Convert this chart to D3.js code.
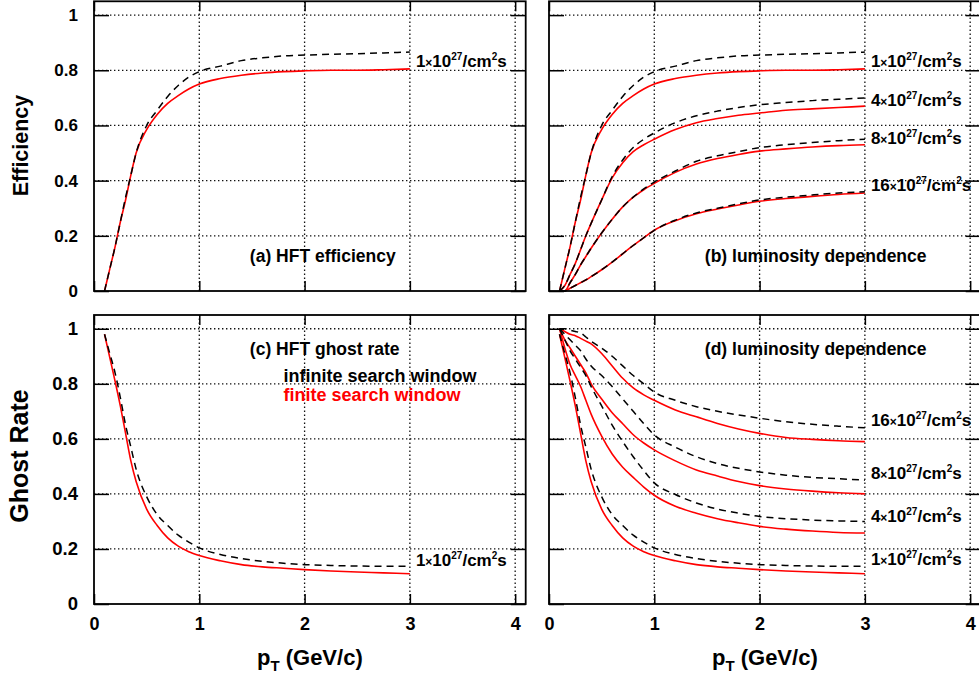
<!DOCTYPE html>
<html><head><meta charset="utf-8">
<script src="https://cdn.jsdelivr.net/npm/d3@7"></script>
<style>
body{margin:0;background:#fff}
svg{display:block;font-family:"Liberation Sans",Arial,Helvetica,sans-serif;font-weight:bold}
</style>
</head><body>
<svg id="chart" width="979" height="675"></svg>
<script>
// ---------------- DATA ----------------
const pT = [0.1,0.15,0.2,0.25,0.3,0.35,0.4,0.5,0.6,0.7,0.8,0.9,1.0,1.2,1.4,1.6,1.8,2.0,2.25,2.5,2.75,3.0];
const luminosities = ["1","4","8","16"];
const xTickValues = [0,1,2,3,4];
const yTickValues = [0,0.2,0.4,0.6,0.8,1];

// efficiency, finite (red) / infinite (black dashed) search window
const effFinite1  = [0.0,0.08,0.16,0.25,0.33,0.42,0.50,0.585,0.64,0.68,0.708,0.732,0.75,0.77,0.782,0.79,0.795,0.798,0.80,0.80,0.802,0.805];
const effInf1     = [0.0,0.08,0.16,0.25,0.34,0.42,0.50,0.60,0.655,0.705,0.745,0.775,0.795,0.815,0.835,0.845,0.852,0.855,0.858,0.86,0.863,0.866];
const effFinite4  = [0.0,0.02,0.06,0.10,0.15,0.20,0.245,0.33,0.41,0.465,0.505,0.53,0.55,0.585,0.61,0.625,0.637,0.645,0.655,0.66,0.665,0.67];
const effInf4     = [0.0,0.02,0.06,0.10,0.15,0.20,0.245,0.33,0.415,0.475,0.52,0.55,0.573,0.61,0.635,0.652,0.665,0.675,0.683,0.69,0.695,0.70];
const effFinite8  = [0.0,0.0,0.03,0.06,0.095,0.125,0.155,0.21,0.26,0.305,0.34,0.367,0.39,0.43,0.46,0.48,0.495,0.507,0.515,0.522,0.527,0.53];
const effInf8     = [0.0,0.0,0.03,0.06,0.095,0.125,0.155,0.21,0.26,0.305,0.34,0.37,0.395,0.435,0.47,0.49,0.505,0.52,0.53,0.538,0.545,0.55];
const effFinite16 = [0.0,0.0,0.01,0.02,0.03,0.04,0.052,0.077,0.105,0.135,0.165,0.193,0.22,0.255,0.28,0.297,0.312,0.325,0.335,0.343,0.35,0.355];
const effInf16    = [0.0,0.0,0.01,0.02,0.03,0.04,0.052,0.077,0.105,0.135,0.165,0.193,0.22,0.257,0.283,0.30,0.316,0.33,0.34,0.348,0.355,0.36];

// ghost rate, finite (red) / infinite (black dashed) search window
const ghostFinite1  = [0.98,0.895,0.81,0.72,0.62,0.52,0.445,0.345,0.285,0.24,0.21,0.19,0.176,0.157,0.143,0.135,0.13,0.125,0.12,0.116,0.113,0.11];
const ghostInf1     = [0.98,0.91,0.84,0.75,0.65,0.57,0.49,0.39,0.325,0.285,0.25,0.225,0.204,0.18,0.165,0.155,0.148,0.143,0.14,0.138,0.137,0.137];
const ghostFinite4  = [1.0,0.93,0.87,0.83,0.79,0.74,0.69,0.61,0.545,0.497,0.46,0.425,0.395,0.355,0.33,0.31,0.295,0.282,0.272,0.265,0.26,0.258];
const ghostInf4     = [1.0,0.96,0.92,0.89,0.86,0.83,0.79,0.72,0.65,0.59,0.535,0.485,0.44,0.398,0.367,0.345,0.33,0.318,0.31,0.305,0.302,0.30];
const ghostFinite8  = [1.0,0.96,0.93,0.90,0.87,0.84,0.80,0.745,0.695,0.655,0.615,0.585,0.56,0.52,0.487,0.465,0.445,0.43,0.418,0.41,0.404,0.40];
const ghostInf8     = [1.0,0.98,0.96,0.94,0.92,0.89,0.865,0.83,0.79,0.745,0.70,0.655,0.614,0.57,0.535,0.51,0.493,0.48,0.468,0.46,0.455,0.45];
const ghostFinite16 = [1.0,0.99,0.98,0.975,0.965,0.955,0.945,0.91,0.865,0.82,0.785,0.76,0.74,0.705,0.68,0.656,0.636,0.62,0.605,0.598,0.593,0.59];
const ghostInf16    = [1.0,1.0,0.995,0.99,0.985,0.97,0.955,0.93,0.90,0.865,0.83,0.80,0.77,0.74,0.717,0.70,0.687,0.675,0.662,0.653,0.646,0.64];

// ---------------- DRAWING ----------------
const svg = d3.select("#chart");
const RED = "#ff0000";

function zip(vals){ return pT.map((p,i)=>[p, vals[i]]); }

function lumLabel(g, px, py, n){
  const t = g.append("text").attr("x",px).attr("y",py).attr("font-size",17).attr("fill","#000");
  t.append("tspan").text(n);
  t.append("tspan").attr("font-size",12).text("\u00d7");
  t.append("tspan").text("10");
  t.append("tspan").attr("font-size",10).attr("dy",-7).text("27");
  t.append("tspan").attr("dy",7).text("/cm");
  t.append("tspan").attr("font-size",10).attr("dy",-7).text("2");
  t.append("tspan").attr("dy",7).text("s");
}

function panel(cfg){
  const g = svg.append("g");
  const x = d3.scaleLinear().domain([0,4.1]).range([cfg.left, cfg.right]);
  const y = d3.scaleLinear().domain([0,1.05]).range([cfg.bottom, cfg.top]);

  // dotted grid
  const grid = g.append("g").attr("stroke","#111").attr("stroke-width",1.3).attr("stroke-dasharray","1.4,2.6");
  xTickValues.filter(v=>v>0).forEach(v=>{
    grid.append("line").attr("x1",x(v)).attr("x2",x(v)).attr("y1",cfg.bottom).attr("y2",cfg.top);
  });
  yTickValues.filter(v=>v>0).forEach(v=>{
    grid.append("line").attr("x1",cfg.left).attr("x2",cfg.right).attr("y1",y(v)).attr("y2",y(v));
  });

  // curves
  const line = d3.line().x(d=>x(d[0])).y(d=>y(d[1])).curve(d3.curveMonotoneX);
  cfg.series.forEach(s=>{
    g.append("path").datum(zip(s.finite)).attr("d",line)
      .attr("fill","none").attr("stroke",RED).attr("stroke-width",1.6);
  });
  cfg.series.forEach(s=>{
    g.append("path").datum(zip(s.inf)).attr("d",line)
      .attr("fill","none").attr("stroke","#000").attr("stroke-width",1.5).attr("stroke-dasharray","7,5");
  });

  // axes (inward ticks)
  const fmt = d=>String(d);
  const ax = [
    {a: d3.axisLeft(y).tickValues(yTickValues).tickSize(-15).tickPadding(16).tickFormat(cfg.yLabels?fmt:""), t:`translate(${cfg.left},0)`, fs: cfg.yFont},
    {a: d3.axisRight(y).tickValues(yTickValues).tickSize(-15).tickFormat(""), t:`translate(${cfg.right},0)`},
    {a: d3.axisTop(x).tickValues(xTickValues).tickSize(-10).tickFormat(""), t:`translate(0,${cfg.top})`},
    {a: d3.axisBottom(x).tickValues(xTickValues).tickSize(-10).tickPadding(13).tickFormat(cfg.xLabels?fmt:""), t:`translate(0,${cfg.bottom})`, fs: 18}
  ];
  ax.forEach(o=>{
    const ag = g.append("g").attr("transform",o.t).call(o.a);
    ag.select(".domain").remove();
    ag.selectAll("line").attr("stroke","#000").attr("stroke-width",1.5);
    ag.selectAll("text").attr("font-family",null).attr("font-size",o.fs||16).attr("fill","#000");
    ag.attr("font-family",null);
  });

  // frame
  g.append("rect").attr("x",cfg.left).attr("y",cfg.top)
    .attr("width",cfg.right-cfg.left).attr("height",cfg.bottom-cfg.top)
    .attr("fill","none").attr("stroke","#000").attr("stroke-width",1.8);

  // panel title
  g.append("text").attr("x",x(1.48)).attr("y",cfg.titleY).attr("font-size",17.5).attr("fill","#000").text(cfg.title);

  // luminosity labels
  cfg.labels.forEach(l=>{
    lumLabel(g, x(3)+6, y(l.at)+6, l.n);
  });

  // x axis title
  if(cfg.xLabels){
    const t = g.append("text").attr("x",(cfg.left+cfg.right)/2).attr("y",665)
      .attr("text-anchor","middle").attr("font-size",22).attr("fill","#000");
    t.append("tspan").text("p");
    t.append("tspan").attr("font-size",15).attr("dy",6).text("T");
    t.append("tspan").attr("dy",-6).text(" (GeV/c)");
  }
  return {g,x,y};
}

const effSeries1 = [{finite:effFinite1, inf:effInf1}];
const effSeriesAll = [
  {finite:effFinite1, inf:effInf1},{finite:effFinite4, inf:effInf4},
  {finite:effFinite8, inf:effInf8},{finite:effFinite16, inf:effInf16}];
const ghostSeries1 = [{finite:ghostFinite1, inf:ghostInf1}];
const ghostSeriesAll = [
  {finite:ghostFinite1, inf:ghostInf1},{finite:ghostFinite4, inf:ghostInf4},
  {finite:ghostFinite8, inf:ghostInf8},{finite:ghostFinite16, inf:ghostInf16}];

const L = {left:94, right:525.7}, R = {left:549, right:980.7};
const T = {top:1.3, bottom:291}, B = {top:315, bottom:604};

panel({...L, ...T, series:effSeries1, yLabels:true, yFont:17, xLabels:false,
  title:"(a) HFT efficiency", titleY:262, labels:[{n:luminosities[0], at:0.833}]});
panel({...R, ...T, series:effSeriesAll, yLabels:false, xLabels:false,
  title:"(b) luminosity dependence", titleY:262,
  labels:[{n:luminosities[0],at:0.833},{n:luminosities[1],at:0.694},{n:luminosities[2],at:0.556},{n:luminosities[3],at:0.385}]});
const pc = panel({...L, ...B, series:ghostSeries1, yLabels:true, yFont:18.5, xLabels:true,
  title:"(c) HFT ghost rate", titleY:355, labels:[{n:luminosities[0], at:0.16}]});
panel({...R, ...B, series:ghostSeriesAll, yLabels:false, xLabels:true,
  title:"(d) luminosity dependence", titleY:355,
  labels:[{n:luminosities[3],at:0.668},{n:luminosities[2],at:0.476},{n:luminosities[1],at:0.32},{n:luminosities[0],at:0.163}]});

// legend in (c)
pc.g.append("text").attr("x",pc.x(1.8)).attr("y",382).attr("font-size",18).attr("fill","#000").text("infinite search window");
pc.g.append("text").attr("x",pc.x(1.8)).attr("y",401).attr("font-size",18).attr("fill",RED).text("finite search window");

// y axis titles
svg.append("text").attr("transform","translate(27.5,145.5) rotate(-90)").attr("text-anchor","middle")
  .attr("font-size",21.5).attr("fill","#000").text("Efficiency");
svg.append("text").attr("transform","translate(28,456) rotate(-90)").attr("text-anchor","middle")
  .attr("font-size",25).attr("fill","#000").text("Ghost Rate");
</script>
</body></html>
